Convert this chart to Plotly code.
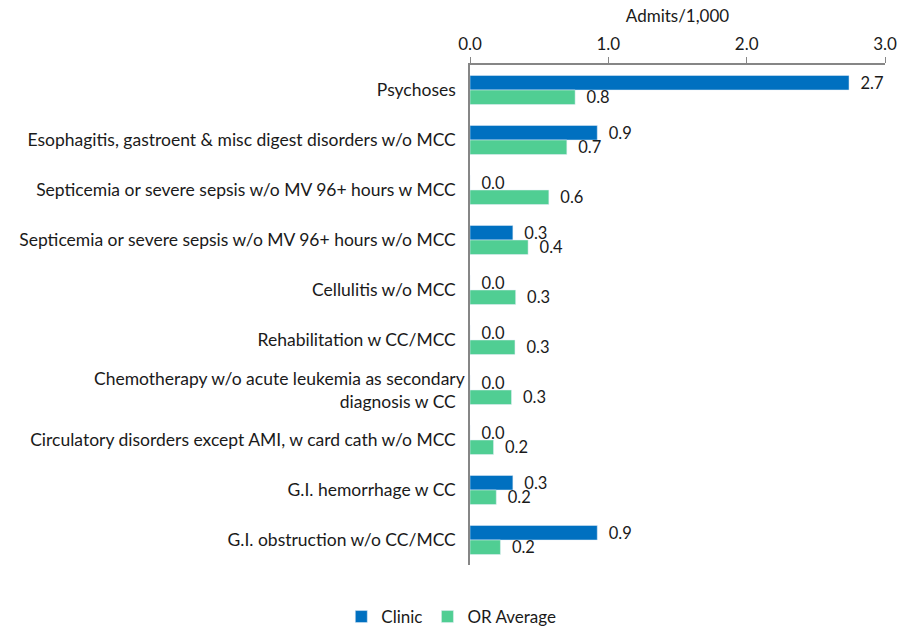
import plotly.graph_objects as go

categories = [
    "Psychoses",
    "Esophagitis, gastroent & misc digest disorders w/o MCC",
    "Septicemia or severe sepsis w/o MV 96+ hours w MCC",
    "Septicemia or severe sepsis w/o MV 96+ hours w/o MCC",
    "Cellulitis w/o MCC",
    "Rehabilitation w CC/MCC",
    "Chemotherapy w/o acute leukemia as secondary<br>diagnosis w CC",
    "Circulatory disorders except AMI, w card cath w/o MCC",
    "G.I. hemorrhage w CC",
    "G.I. obstruction w/o CC/MCC",
]
clinic = [2.74, 0.92, 0.0, 0.31, 0.0, 0.0, 0.0, 0.0, 0.31, 0.92]
or_average = [0.76, 0.70, 0.57, 0.42, 0.33, 0.325, 0.30, 0.17, 0.19, 0.22]

FONT = "Lato, 'Open Sans', sans-serif"
TXT = "#1a1a1a"

fig = go.Figure()
fig.add_trace(go.Bar(
    y=categories, x=clinic, orientation="h", name="Clinic",
    marker=dict(color="#0070C0"),
    texttemplate="  %{x:.1f}", textposition="outside", cliponaxis=False,
    constraintext="none",
    textfont=dict(family=FONT, size=16.5, color=TXT),
))
fig.add_trace(go.Bar(
    y=categories, x=or_average, orientation="h", name="OR Average",
    marker=dict(color="#50CE93"),
    texttemplate="  %{x:.1f}", textposition="outside", cliponaxis=False,
    constraintext="none",
    textfont=dict(family=FONT, size=16.5, color=TXT),
))

fig.update_layout(
    width=899, height=629,
    paper_bgcolor="white", plot_bgcolor="white",
    barmode="group", bargap=0.42, bargroupgap=0.0,
    margin=dict(l=470, r=14, t=65, b=64, autoexpand=False),
    font=dict(family=FONT, size=17, color=TXT),
    showlegend=True,
    legend=dict(orientation="h", xref="container", x=0.502, xanchor="center",
                yref="paper", y=-0.104, yanchor="middle",
                font=dict(family=FONT, size=17, color=TXT),
                traceorder="normal", itemwidth=30),
    xaxis=dict(
        side="top", range=[0, 3], tickvals=[0, 1, 2, 3],
        ticktext=["0.0", "1.0", "2.0", "3.0"],
        automargin=False,
        showgrid=False, zeroline=False, showline=True, linecolor="#868686",
        linewidth=1.5, ticks="outside", ticklen=6, tickcolor="#868686",
        title=dict(text="Admits/1,000", standoff=7,
                   font=dict(family=FONT, size=17, color=TXT)),
        tickfont=dict(family=FONT, size=17, color=TXT),
    ),
    yaxis=dict(
        autorange="reversed", showgrid=False, zeroline=False, showline=True,
        automargin=False,
        linecolor="#868686", linewidth=1.5, ticks="", ticksuffix="  ",
        tickfont=dict(family=FONT, size=17.5, color=TXT),
    ),
)

fig.write_html(
    "out.html",
    config={"displayModeBar": False},
    post_script="document.body.style.margin='0';document.body.style.overflow='hidden';",
)
